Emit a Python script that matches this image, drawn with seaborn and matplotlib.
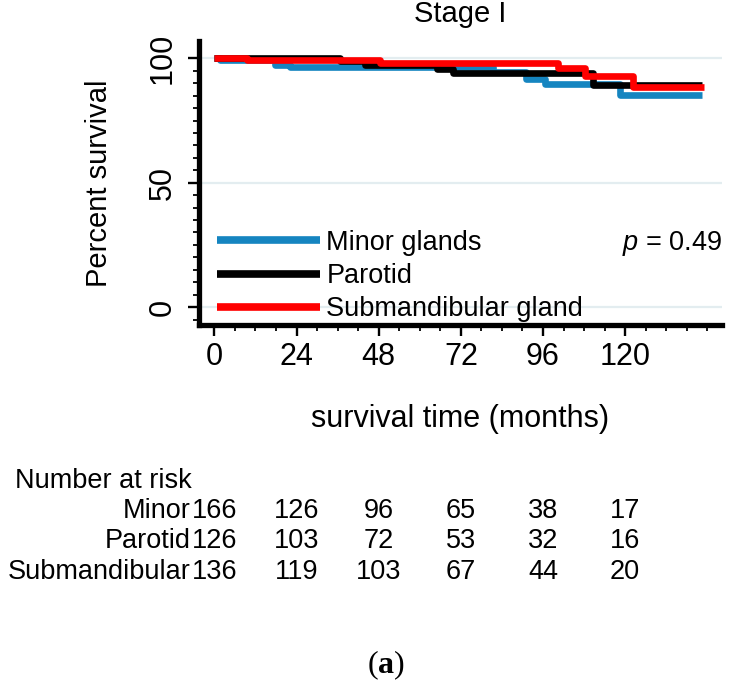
import matplotlib
matplotlib.use("Agg")
import matplotlib.pyplot as plt
import matplotlib.transforms as mtransforms
from matplotlib.ticker import MultipleLocator, FixedLocator
import pandas as pd
import seaborn as sns

# Kaplan-Meier step values (months, percent surviving)
minor_t = [0, 1.5, 17.7, 22.1, 81.5, 91.0, 96.6, 118.5, 142.4]
minor_s = [100, 99.4, 97.4, 96.5, 94.6, 91.8, 89.7, 85.2, 85.2]
parotid_t = [0, 36.7, 44.0, 65.0, 69.8, 110.7, 142.4]
parotid_s = [100, 98.8, 97.2, 95.6, 94.1, 89.3, 89.3]
submand_t = [0, 9.5, 48.4, 100.5, 108.3, 122.4, 143.0]
submand_s = [100, 99.2, 98.3, 96.0, 92.9, 88.5, 88.5]

groups = ["Minor glands", "Parotid", "Submandibular gland"]
colors = ["#1585c0", "#000000", "#ff0000"]

# number at risk table
risk_times = [0, 24, 48, 72, 96, 120]
risk_labels = ["Minor", "Parotid", "Submandibular"]
minor_risk = [166, 126, 96, 65, 38, 17]
parotid_risk = [126, 103, 72, 53, 32, 16]
submand_risk = [136, 119, 103, 67, 44, 20]

p_text = "0.49"

df = pd.concat(
    [
        pd.DataFrame({"time": minor_t, "survival": minor_s, "group": groups[0]}),
        pd.DataFrame({"time": parotid_t, "survival": parotid_s, "group": groups[1]}),
        pd.DataFrame({"time": submand_t, "survival": submand_s, "group": groups[2]}),
    ],
    ignore_index=True,
)

sns.set_style("ticks")
plt.rcParams["font.family"] = ["Liberation Sans", "DejaVu Sans"]
plt.rcParams["text.color"] = "black"
plt.rcParams["axes.labelcolor"] = "black"
plt.rcParams["xtick.color"] = "black"
plt.rcParams["ytick.color"] = "black"
plt.rcParams["mathtext.fontset"] = "custom"
plt.rcParams["mathtext.it"] = "Liberation Sans:italic"
plt.rcParams["mathtext.rm"] = "Liberation Sans"
plt.rcParams["mathtext.bf"] = "Liberation Serif:bold"

W, H = 737, 690
fig = plt.figure(figsize=(W / 100, H / 100), dpi=100)
ax = fig.add_axes([199 / W, 1 - 325 / H, (721.7 - 199) / W, (325 - 40.7) / H])

sns.lineplot(
    data=df, x="time", y="survival", hue="group", hue_order=groups,
    palette=colors, estimator=None, drawstyle="steps-post",
    linewidth=4.8, solid_capstyle="butt", legend=False, ax=ax,
)

ax.set_xlim(-4.5, 148.2)
ax.set_ylim(-7.2, 107.1)
ax.set_xticks(risk_times)
ax.set_yticks([0, 50, 100])
ax.xaxis.set_minor_locator(MultipleLocator(6))
ax.yaxis.set_minor_locator(FixedLocator(list(range(-5, 101, 5))))
ax.tick_params(axis="both", which="both", bottom=True, left=True,
               direction="out", colors="black")
ax.tick_params(axis="both", which="major", length=8, width=1.7, labelsize=22)
ax.tick_params(axis="both", which="minor", length=4.5, width=1.3)
ax.tick_params(axis="x", which="major", pad=4)
ax.tick_params(axis="y", which="major", pad=7.5, labelrotation=90)
for lab in ax.get_yticklabels():
    lab.set_va("center")

sns.despine(ax=ax)
for side in ["left", "bottom"]:
    ax.spines[side].set_linewidth(3.8)
    ax.spines[side].set_color("black")

ax.yaxis.grid(True, which="major", color="#e3edf0", linewidth=1.6)
ax.xaxis.grid(False)
ax.set_axisbelow(True)

ax.set_ylabel("Percent survival", fontsize=21)
ax.yaxis.set_label_coords(-0.191, 0.5)
ax.yaxis.label.set_va("center")
ax.set_xlabel("survival time (months)", fontsize=22)
ax.xaxis.set_label_coords(0.5, -0.3306)
ax.xaxis.label.set_va("center")
ax.set_title("Stage I", fontsize=21, y=1.0658, va="center")

leg = ax.legend(
    ax.get_lines()[:3], groups, loc="lower left",
    bbox_to_anchor=(0.034, 0.009), frameon=False, fontsize=19.5,
    handlelength=3.8, handletextpad=0.25, labelspacing=0.27,
    borderpad=0, borderaxespad=0,
)
for h in leg.get_lines():
    h.set_linewidth(5.5)

ax.text(1.0, 0.288, r"$p$ = " + p_text, transform=ax.transAxes,
        ha="right", va="center", fontsize=19.5)

# number at risk
fig.text(15 / W, 1 - 481 / H, "Number at risk", ha="left", va="center", fontsize=19.5)
trans = mtransforms.blended_transform_factory(ax.transData, fig.transFigure)
row_y = [1 - 511 / H, 1 - 541 / H, 1 - 572 / H]
for label, counts, y in zip(risk_labels, [minor_risk, parotid_risk, submand_risk], row_y):
    fig.text(191 / W, y, label, ha="right", va="center", fontsize=19.5)
    for t, n in zip(risk_times, counts):
        ax.text(t, y, str(n), transform=trans, ha="center", va="center",
                fontsize=19.5, clip_on=False)

fig.text(386 / W, 1 - 665 / H, r"($\mathbf{a}$)", ha="center", va="center",
         fontsize=23, family="Liberation Serif")

fig.savefig("out.png", dpi=100)
